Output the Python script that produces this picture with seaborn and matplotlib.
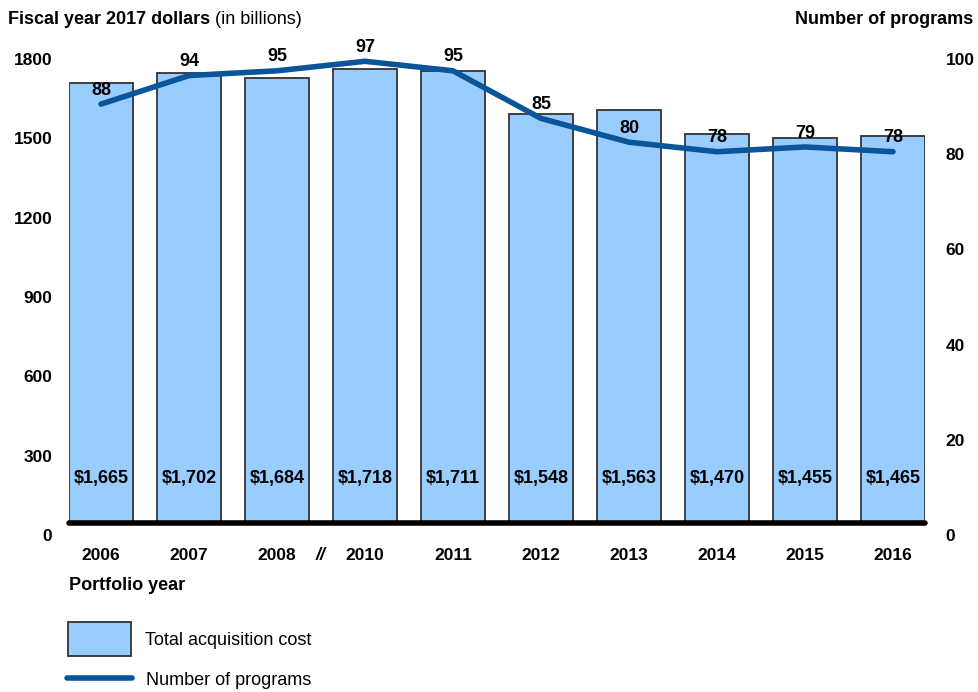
import numpy as np
import pandas as pd
import seaborn as sns
import matplotlib
matplotlib.use("Agg")
import matplotlib.pyplot as plt
from matplotlib.patches import Patch
from matplotlib.lines import Line2D
from matplotlib.transforms import ScaledTranslation

# data
years = ["2006", "2007", "2008", "2010", "2011", "2012", "2013", "2014", "2015", "2016"]
cost = [1665, 1702, 1684, 1718, 1711, 1548, 1563, 1470, 1455, 1465]
programs = [88, 94, 95, 97, 95, 85, 80, 78, 79, 78]
cost_ticks = [0, 300, 600, 900, 1200, 1500, 1800]
prog_ticks = [0, 20, 40, 60, 80, 100]

bar_color = "#99ccff"
line_color = "#0a5499"

sns.set_style("white")
plt.rcParams["font.family"] = ["Liberation Sans", "DejaVu Sans"]
plt.rcParams["font.size"] = 12
plt.rcParams["text.color"] = "black"
plt.rcParams["xtick.color"] = "black"
plt.rcParams["ytick.color"] = "black"

df = pd.DataFrame({"year": years, "cost": cost, "programs": programs})
df["pos"] = np.arange(len(df))

fig = plt.figure(figsize=(9.79, 6.92), dpi=100)
W, H = 979, 692
ax = fig.add_axes([69 / W, 169 / H, (925 - 69) / W, 476 / H])

sns.barplot(data=df, x="year", y="cost", color=bar_color, width=0.727,
            edgecolor="#333333", linewidth=1.3, saturation=1, ax=ax)
ax.set_xlim(-0.3635, len(years) - 1 + 0.3635)
ax.set_ylim(0, 1800)
ax.axhline(0, color="black", lw=4, zorder=5, clip_on=False)

# cost labels inside bars
for i, v in enumerate(cost):
    ax.text(i, 168, f"${v:,}", ha="center", va="center", fontsize=13, fontweight="bold")

ax2 = ax.twinx()
sns.lineplot(data=df, x="pos", y="programs", color=line_color, lw=4, ax=ax2,
             solid_joinstyle="round", solid_capstyle="round")
ax2.set_ylim(0, 100)
ax2.set_xlim(ax.get_xlim())
for i, v in enumerate(programs):
    ax2.annotate(str(v), (i, v), xytext=(0, 10), textcoords="offset points",
                 ha="center", va="center", fontsize=13, fontweight="bold")

for a in (ax, ax2):
    for s in a.spines.values():
        s.set_visible(False)
    a.set_xlabel("")
    a.set_ylabel("")

ax.set_yticks(cost_ticks)
ax2.set_yticks(prog_ticks)
ax.tick_params(axis="y", length=0, pad=12, labelsize=12.5)
ax2.tick_params(axis="y", length=0, pad=15, labelsize=12.5)
ax.tick_params(axis="x", length=0, pad=18, labelsize=12.5)
for lab in ax.get_yticklabels() + ax.get_xticklabels() + ax2.get_yticklabels():
    lab.set_fontweight("bold")

# tick labels sit a little below the gridline positions in the original
shift = ScaledTranslation(0, -12 / 100, fig.dpi_scale_trans)
for lab in ax.get_yticklabels() + ax2.get_yticklabels():
    lab.set_transform(lab.get_transform() + shift)

# break mark between 2008 and 2010
ax.text(2.5, -0.068, "//", transform=ax.get_xaxis_transform(), ha="center", va="center",
        fontsize=13, fontweight="bold", fontstyle="italic")

t = fig.text(8 / W, 1 - 19 / H, "Fiscal year 2017 dollars", fontsize=13,
             fontweight="bold", va="center", ha="left")
fig.canvas.draw()
ext = t.get_window_extent()
fig.text(ext.x1 / W, 1 - 19 / H, " (in billions)", fontsize=13, va="center", ha="left")
fig.text(973 / W, 1 - 19 / H, "Number of programs", fontsize=13,
         fontweight="bold", va="center", ha="right")
fig.text(69 / W, 1 - 585 / H, "Portfolio year", fontsize=13,
         fontweight="bold", va="center", ha="left")

# legend: two separate entries so each handle lines up with its text
leg1 = fig.legend([Patch(facecolor=bar_color, edgecolor="#333333", linewidth=1.3)],
                  ["Total acquisition cost"], loc="center left",
                  bbox_to_anchor=(68 / W, 1 - 639 / H), frameon=False, fontsize=13,
                  handlelength=3.5, handleheight=2.45, handletextpad=0.75,
                  borderpad=0, borderaxespad=0)
fig.legend([Line2D([0], [0], color=line_color, lw=4, solid_capstyle="round")],
           ["Number of programs"], loc="center left",
           bbox_to_anchor=(67 / W, 1 - 680 / H), frameon=False, fontsize=13,
           handlelength=3.6, handleheight=1, handletextpad=0.75,
           borderpad=0, borderaxespad=0)

fig.savefig("out.png", dpi=100)
